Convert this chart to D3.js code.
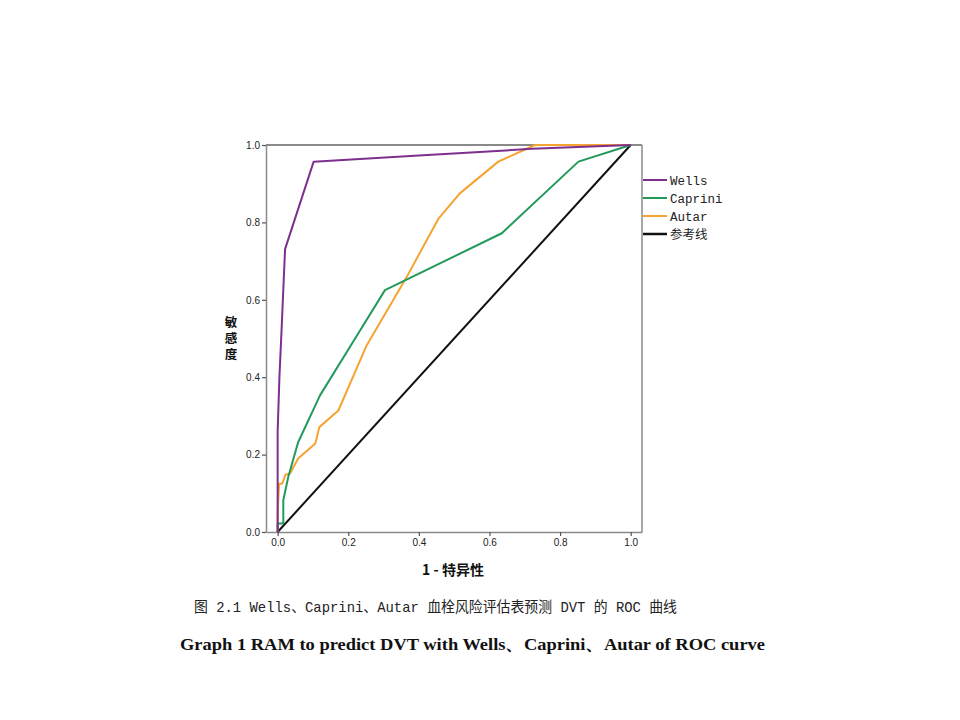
<!DOCTYPE html>
<html>
<head>
<meta charset="utf-8">
<script src="https://cdn.jsdelivr.net/npm/d3@7/dist/d3.min.js"></script>
<style>
  body { margin: 0; background: #fff; }
  svg { display: block; }
</style>
</head>
<body>
<svg id="chart" width="960" height="720"></svg>
<script>
// data: [1 - specificity, sensitivity]
var wellsPoints = [[0, 0], [0, 0.26], [0.005, 0.4], [0.011, 0.52], [0.021, 0.731],
  [0.102, 0.957], [0.40, 0.973], [0.72, 0.99], [1, 1]];
var capriniPoints = [[0, 0], [0, 0.022], [0.016, 0.022], [0.016, 0.082], [0.03, 0.142],
  [0.058, 0.232], [0.12, 0.353], [0.233, 0.52], [0.304, 0.625], [0.635, 0.772],
  [0.852, 0.957], [1, 1]];
var autarPoints = [[0, 0], [0, 0.05], [0.004, 0.125], [0.013, 0.125], [0.022, 0.148],
  [0.035, 0.151], [0.058, 0.19], [0.106, 0.228], [0.11, 0.24], [0.118, 0.271],
  [0.172, 0.314], [0.252, 0.482], [0.365, 0.658], [0.455, 0.809], [0.516, 0.875],
  [0.625, 0.957], [0.729, 1], [1, 1]];
var refPoints = [[0, 0], [1, 1]];

var seriesNames = ["Wells", "Caprini", "Autar", "参考线"];
var tickValues = [0, 0.2, 0.4, 0.6, 0.8, 1.0];
var yTitle = "敏感度";

var COLOR = {
  WELLS: "#7e2f8e",
  CAPRINI: "#23995a",
  AUTAR: "#f5a331",
  REF: "#111111",
  FRAME: "#8a8a8a"
};

var series = [
  { name: seriesNames[0], points: wellsPoints, color: COLOR.WELLS },
  { name: seriesNames[1], points: capriniPoints, color: COLOR.CAPRINI },
  { name: seriesNames[2], points: autarPoints, color: COLOR.AUTAR },
  { name: seriesNames[3], points: refPoints, color: COLOR.REF }
];

var svg = d3.select("#chart");
svg.append("rect").attr("width", 960).attr("height", 720).attr("fill", "#fff");

var margin = { left: 266, top: 145 };
var width = 376, height = 387;

var plot = svg.append("g")
  .attr("class", "plot")
  .attr("transform", "translate(" + margin.left + "," + margin.top + ")");

// x runs a little past 0 and 1 on both sides, as SPSS does
var x = d3.scaleLinear().domain([-0.033, 1.032]).range([0, width]);
var y = d3.scaleLinear().domain([0, 1]).range([height, 0]);

// frame: top and right
plot.append("line")
  .attr("x1", 0).attr("x2", width).attr("y1", 0).attr("y2", 0)
  .attr("stroke", COLOR.FRAME).attr("stroke-width", 2.2);
plot.append("line")
  .attr("x1", width).attr("x2", width).attr("y1", 0).attr("y2", height)
  .attr("stroke", COLOR.FRAME).attr("stroke-width", 1.5);

// axes
var xAxis = plot.append("g")
  .attr("transform", "translate(0," + height + ")")
  .call(d3.axisBottom(x).tickValues(tickValues).tickFormat(d3.format(".1f"))
    .tickSizeInner(4).tickSizeOuter(0).tickPadding(3));
var yAxis = plot.append("g")
  .call(d3.axisLeft(y).tickValues(tickValues).tickFormat(d3.format(".1f"))
    .tickSizeInner(4).tickSizeOuter(0).tickPadding(2));

[xAxis, yAxis].forEach(function (a) {
  a.select(".domain").attr("stroke", COLOR.FRAME).attr("stroke-width", 1.5);
  a.selectAll(".tick line").attr("stroke", "#555").attr("stroke-width", 1.2);
  a.selectAll(".tick text")
    .attr("fill", "#222")
    .style("font-family", "'Liberation Sans', Arial, sans-serif")
    .style("font-size", "10px");
});

// curves
var line = d3.line()
  .x(function (d) { return x(d[0]); })
  .y(function (d) { return y(d[1]); });

plot.selectAll(".roc")
  .data(series.slice().reverse())
  .enter()
  .append("path")
  .attr("class", "roc")
  .attr("d", function (d) { return line(d.points); })
  .attr("fill", "none")
  .attr("stroke", function (d) { return d.color; })
  .attr("stroke-width", 2)
  .attr("stroke-linejoin", "round");

// legend
var legend = svg.append("g").attr("transform", "translate(643,180)");
var rows = legend.selectAll(".row")
  .data(series)
  .enter()
  .append("g")
  .attr("transform", function (d, i) { return "translate(0," + i * 18 + ")"; });
rows.append("line")
  .attr("x1", 0).attr("x2", 24).attr("y1", 0).attr("y2", 0)
  .attr("stroke", function (d) { return d.color; })
  .attr("stroke-width", function (d, i) { return i === 3 ? 2.5 : 2; });
rows.append("text")
  .attr("x", 27).attr("y", 4.5)
  .attr("fill", "#222")
  .style("font-family", "'Liberation Mono', 'Noto Sans CJK SC', monospace")
  .style("font-size", "12.5px")
  .text(function (d) { return d.name; });

// axis titles
svg.append("text")
  .attr("x", 453).attr("y", 575)
  .attr("text-anchor", "middle")
  .attr("fill", "#111")
  .style("font-family", "'Noto Sans CJK SC', sans-serif")
  .style("font-size", "14px")
  .style("font-weight", "bold")
  .text("1 - 特异性");

// vertical title, characters stacked upright
svg.append("text")
  .attr("x", 231).attr("y", 316)
  .attr("fill", "#111")
  .style("writing-mode", "vertical-rl")
  .style("text-orientation", "upright")
  .style("letter-spacing", "3.5px")
  .style("font-family", "'Noto Sans CJK SC', sans-serif")
  .style("font-size", "12.5px")
  .style("font-weight", "bold")
  .text(yTitle);

// captions
svg.append("text")
  .attr("x", 194).attr("y", 612)
  .attr("textLength", 483)
  .attr("lengthAdjust", "spacingAndGlyphs")
  .attr("fill", "#222")
  .style("font-family", "'Liberation Mono', 'Noto Sans CJK SC', monospace")
  .style("font-size", "15px")
  .text("图 2.1 Wells、Caprini、Autar 血栓风险评估表预测 DVT 的 ROC 曲线");

svg.append("text")
  .attr("x", 180).attr("y", 650)
  .attr("textLength", 585)
  .attr("lengthAdjust", "spacingAndGlyphs")
  .attr("fill", "#111")
  .style("font-family", "'Liberation Serif', 'Times New Roman', serif")
  .style("font-size", "16px")
  .style("font-weight", "bold")
  .text("Graph 1 RAM to predict DVT with Wells、Caprini、Autar of ROC curve");
</script>
</body>
</html>
